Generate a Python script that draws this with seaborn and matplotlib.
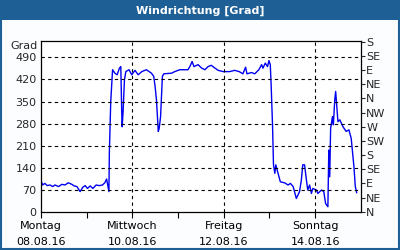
import numpy as np
import pandas as pd
import matplotlib
matplotlib.use("Agg")
import matplotlib.pyplot as plt
import seaborn as sns
from matplotlib.patches import Rectangle

# time in days since 08.08.16 00:00, wind direction in degrees
days = [0.00, 0.04, 0.09, 0.14, 0.20, 0.26, 0.31, 0.39, 0.46, 0.53, 0.60, 0.68,
        0.73, 0.79, 0.86, 0.92, 0.97, 1.02, 1.08, 1.14, 1.21, 1.28, 1.35, 1.40,
        1.44, 1.49, 1.50, 1.53, 1.56, 1.57, 1.62, 1.67, 1.72, 1.75, 1.77, 1.78,
        1.80, 1.83, 1.86, 1.93, 1.99, 2.06, 2.13, 2.21, 2.31, 2.42, 2.47, 2.50,
        2.53, 2.57, 2.59, 2.62, 2.66, 2.69, 2.86, 2.93, 3.04, 3.22, 3.26, 3.31,
        3.35, 3.44, 3.52, 3.59, 3.66, 3.73, 3.81, 3.88, 3.99, 4.13, 4.24, 4.34,
        4.42, 4.48, 4.51, 4.61, 4.68, 4.77, 4.83, 4.86, 4.91, 4.96, 4.99, 5.02,
        5.04, 5.07, 5.09, 5.12, 5.14, 5.19, 5.24, 5.33, 5.41, 5.46, 5.52, 5.59,
        5.66, 5.70, 5.73, 5.77, 5.81, 5.84, 5.88, 5.92, 5.95, 6.03, 6.06, 6.14,
        6.19, 6.23, 6.28, 6.30, 6.32, 6.34, 6.38, 6.40, 6.43, 6.45, 6.48, 6.50,
        6.54, 6.61, 6.68, 6.74, 6.79, 6.85, 6.88, 6.91]
grad = [101, 85, 90, 83, 85, 80, 85, 80, 87, 85, 92, 87,
        82, 80, 64, 78, 83, 74, 82, 74, 85, 83, 85, 92,
        104, 64, 190, 350, 425, 451, 440, 435, 456, 461, 318, 270,
        318, 419, 445, 451, 435, 449, 435, 445, 451, 440, 430, 398,
        355, 255, 265, 302, 430, 438, 440, 445, 451, 451, 461, 477,
        461, 467, 456, 451, 461, 465, 456, 449, 445, 445, 449, 445,
        438, 459, 438, 442, 438, 451, 467, 456, 472, 461, 480, 467,
        398, 270, 149, 122, 149, 122, 95, 92, 85, 90, 80, 42,
        64, 101, 149, 149, 101, 69, 85, 58, 74, 69, 58, 69,
        64, 26, 16, 196, 111, 265, 302, 276, 355, 382, 324, 286,
        292, 270, 255, 260, 233, 143, 80, 60]

y_ticks = [0, 70, 140, 210, 280, 350, 420, 490]
dir_ticks = [0, 45, 90, 135, 180, 225, 270, 315, 360, 405, 450, 495, 540]
dir_labels = ["N", "NE", "E", "SE", "S", "SW", "W", "NW", "N", "NE", "E", "SE", "S"]
day_labels = ["Montag\n08.08.16", "Mittwoch\n10.08.16", "Freitag\n12.08.16", "Sonntag\n14.08.16"]

df = pd.DataFrame({"Tag": days, "Grad": grad})

blue = "#1e6096"
sns.set_style("white")
plt.rcParams["font.family"] = ["DejaVu Sans"]

fig = plt.figure(figsize=(4, 2.5), dpi=100, facecolor="#fcfdff")
ax = fig.add_axes([0.102, 0.153, 0.8, 0.684])

sns.lineplot(data=df, x="Tag", y="Grad", color="#0000f0", linewidth=1, ax=ax)

ax.set_xlim(0, 7)
ax.set_ylim(0, 543)
ax.set_yticks(y_ticks)
ax.set_yticklabels([str(v) for v in y_ticks], fontsize=8)
ax.set_xticks([0, 2, 4, 6])
ax.set_xticklabels(day_labels, fontsize=8, linespacing=1.75)
ax.set_xticks([1, 3, 5], minor=True)
ax.tick_params(axis="x", which="both", direction="out", length=4, width=0.8,
               bottom=True, pad=3, colors="black")
ax.tick_params(axis="y", length=0, pad=3)
ax.set_xlabel("")
ax.set_ylabel("")
for v in y_ticks[1:]:
    ax.axhline(v, color="black", linestyle=(0, (3, 3)), linewidth=0.8)
for v in [2, 4, 6]:
    ax.axvline(v, color="black", linestyle=(0, (3, 3)), linewidth=0.8)
for s in ax.spines.values():
    s.set_color("black")
    s.set_linewidth(0.9)

ax2 = ax.twinx()
ax2.set_ylim(0, 543)
ax2.set_yticks(dir_ticks)
ax2.set_yticklabels(dir_labels, fontsize=8)
ax2.tick_params(axis="y", direction="out", length=3, width=0.8, pad=1, right=True)
for s in ax2.spines.values():
    s.set_visible(False)

fig.text(0.06, 0.815, "Grad", fontsize=8, ha="center", va="center")

# title band and frame
fig.patches.append(Rectangle((0, 0.92), 1, 0.08, transform=fig.transFigure,
                             facecolor=blue, edgecolor="none", zorder=0))
fig.patches.append(Rectangle((0.002, 0.003), 0.996, 0.994, transform=fig.transFigure,
                             facecolor="none", edgecolor=blue, linewidth=1.5, zorder=5))
fig.text(0.5, 0.958, "Windrichtung [Grad]", color="white", fontsize=8,
         fontweight="bold", ha="center", va="center")

fig.savefig("out.png", dpi=100, facecolor=fig.get_facecolor())
